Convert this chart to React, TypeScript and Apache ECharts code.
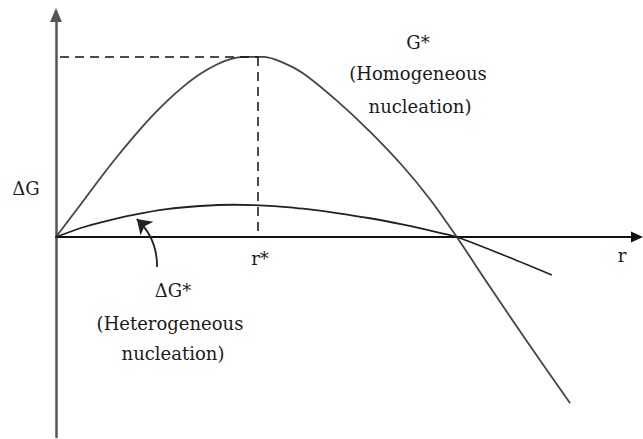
import React, { useEffect, useRef } from "react";
import * as echarts from "echarts";

// r in units of r* ; ΔG in units of homogeneous ΔG*
const homoR = [0, 0.135, 0.218, 0.3, 0.383, 0.465, 0.548, 0.63, 0.713, 0.796, 0.878, 0.96, 1.025, 1.109, 1.224, 1.39, 1.554, 1.719, 1.851, 1.984, 2.132, 2.313, 2.545];
const homoG = [0, 0.2, 0.325, 0.443, 0.555, 0.659, 0.753, 0.835, 0.905, 0.958, 0.992, 1.0, 1.0, 0.975, 0.908, 0.757, 0.585, 0.39, 0.21, 0, -0.25, -0.55, -0.924];

const heteroR = [0, 0.135, 0.218, 0.383, 0.548, 0.713, 0.878, 1.01, 1.109, 1.224, 1.39, 1.554, 1.719, 1.884, 1.984, 2.214, 2.454];
const heteroG = [0, 0.054, 0.08, 0.123, 0.155, 0.172, 0.179, 0.176, 0.169, 0.157, 0.133, 0.104, 0.068, 0.027, 0, -0.1, -0.211];

const rStar = 1;
const gStar = 1;

const xRange = [0, 2.876];
const yRange = [-1.111, 1.233];

const annotationArrow = [[0.5, -0.167], [0.4, 0.1]];

export default function App() {
  const ref = useRef<HTMLDivElement>(null);
  useEffect(() => {
    if (!ref.current) return;
    const chart = echarts.init(ref.current, null, { renderer: "svg" });
    const font = "'DejaVu Serif', 'Liberation Serif', serif";
    const txt = (x: number, y: number, s: string) => ({
      type: "text",
      x,
      y,
      style: {
        text: s,
        fill: "#1a1a1a",
        font: `18px ${font}`,
        textAlign: "center",
        textVerticalAlign: "middle",
      },
    });
    chart.setOption({
      animation: false,
      backgroundColor: "#fff",
      grid: { left: 56, right: 6, top: 15, bottom: 2 },
      xAxis: {
        type: "value",
        min: xRange[0],
        max: xRange[1],
        axisLine: {
          show: true,
          onZero: true,
          symbol: ["none", "triangle"],
          symbolSize: [11, 12],
          lineStyle: { color: "#111", width: 2 },
        },
        axisTick: { show: false },
        axisLabel: { show: false },
        splitLine: { show: false },
      },
      yAxis: {
        type: "value",
        min: yRange[0],
        max: yRange[1],
        axisLine: {
          show: true,
          onZero: false,
          symbol: ["none", "triangle"],
          symbolSize: [12, 14],
          lineStyle: { color: "#555", width: 2.5 },
        },
        axisTick: { show: false },
        axisLabel: { show: false },
        splitLine: { show: false },
      },
      series: [
        {
          name: "Homogeneous",
          type: "line",
          data: homoR.map((r, i) => [r, homoG[i]]),
          smooth: 0.3,
          symbol: "none",
          lineStyle: { color: "#444", width: 1.8 },
          markLine: {
            silent: true,
            symbol: "none",
            label: { show: false },
            lineStyle: { color: "#111", type: [9, 6], width: 1.5 },
            data: [
              [{ coord: [0.02, gStar] }, { coord: [rStar, gStar] }],
              [{ coord: [rStar, gStar] }, { coord: [rStar, 0] }],
            ],
          },
        },
        {
          name: "Heterogeneous",
          type: "line",
          data: heteroR.map((r, i) => [r, heteroG[i]]),
          smooth: 0.3,
          symbol: "none",
          lineStyle: { color: "#222", width: 1.8 },
        },
        {
          type: "lines",
          coordinateSystem: "cartesian2d",
          symbol: ["none", "arrow"],
          symbolSize: 14,
          lineStyle: { color: "#222", width: 1.8, curveness: -0.22, opacity: 1 },
          data: [{ coords: annotationArrow }],
        },
      ],
      graphic: [
        txt(418, 42, "G*"),
        txt(418, 73, "(Homogeneous"),
        txt(420, 106, "nucleation)"),
        txt(26, 188, "ΔG"),
        txt(260, 258, "r*"),
        txt(622, 255, "r"),
        txt(173, 290, "ΔG*"),
        txt(170, 323, "(Heterogeneous"),
        txt(173, 353, "nucleation)"),
      ],
    });
    return () => chart.dispose();
  }, []);
  return (
    <div
      ref={ref}
      style={{ position: "absolute", left: 0, top: 0, width: 643, height: 439 }}
    />
  );
}
